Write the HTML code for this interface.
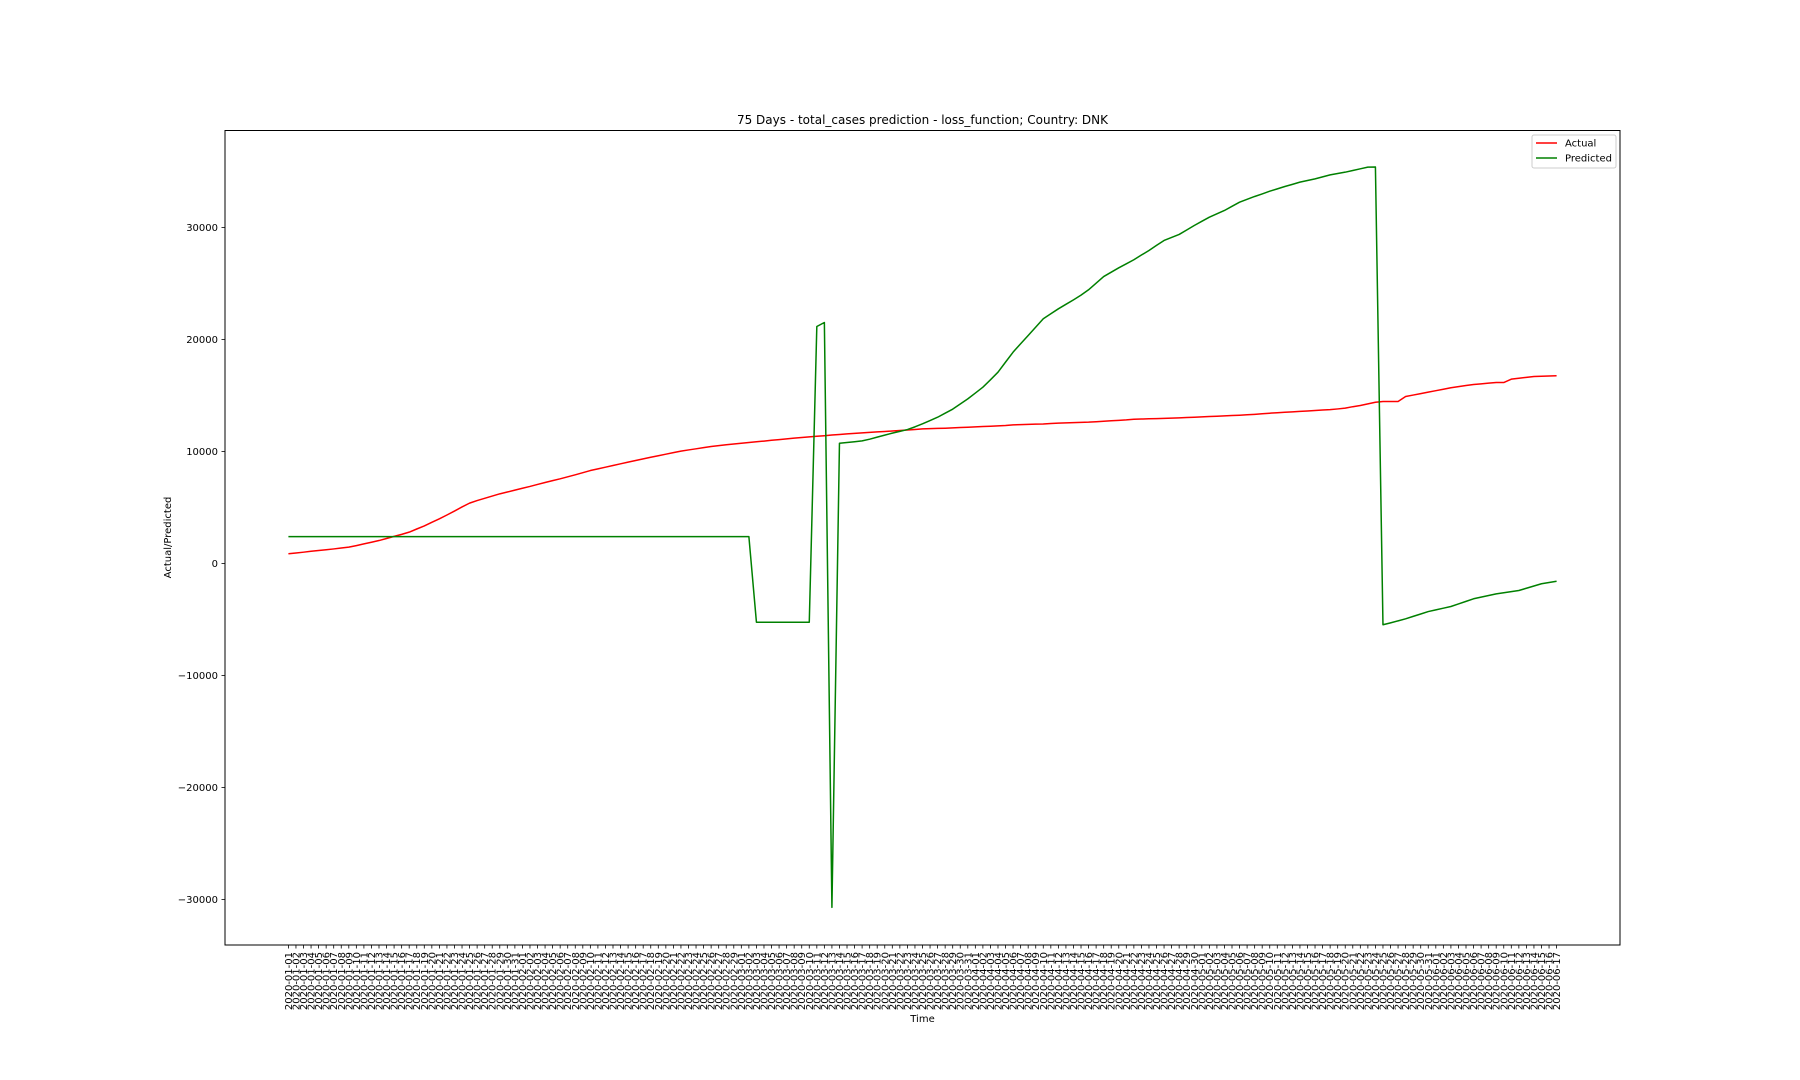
<!DOCTYPE html>
<html>
<head>
<meta charset="utf-8">
<style>
  html,body{margin:0;padding:0;background:#fff;}
  svg{display:block;font-family:"DejaVu Sans","Liberation Sans",sans-serif;}
</style>
</head>
<body>
<svg id="chart" width="1800" height="1080" viewBox="0 0 1800 1080" xmlns="http://www.w3.org/2000/svg">
  <rect x="0" y="0" width="1800" height="1080" fill="#fff"/>
  <text x="922.5" y="124" font-size="12" text-anchor="middle" fill="#000">75 Days - total_cases prediction - loss_function; Country: DNK</text>
  <g id="xticks"></g>
  <g id="yticks"></g>
  <g id="series"></g>
  <rect x="225" y="130.5" width="1395" height="814.5" fill="none" stroke="#000" stroke-width="1"/>
  <text x="922.5" y="1022" font-size="10" text-anchor="middle" fill="#000">Time</text>
  <text transform="translate(171,537.5) rotate(-90)" font-size="10" text-anchor="middle" fill="#000">Actual/Predicted</text>
  <g>
    <rect x="1532" y="135" width="84" height="33" rx="2" fill="#fff" fill-opacity="0.8" stroke="#ccc" stroke-width="1"/>
    <line x1="1536" y1="143" x2="1557" y2="143" stroke="#ff0000" stroke-width="1.5"/>
    <text x="1565" y="146.5" font-size="10" fill="#000">Actual</text>
    <line x1="1536" y1="158" x2="1557" y2="158" stroke="#008000" stroke-width="1.5"/>
    <text x="1565" y="161.5" font-size="10" fill="#000">Predicted</text>
  </g>
</svg>
<script>
const startDate = "2020-01-01";
const dayCount = 169;
const yTickValues = [-30000, -20000, -10000, 0, 10000, 20000, 30000];
const yTickLabels = ["\u221230000", "\u221220000", "\u221210000", "0", "10000", "20000", "30000"];
const actualValues = [
870,940,1010,1090,1160,1230,1300,1380,1460,1600,1750,1900,2050,
2230,2420,2600,2800,3080,3350,3680,3990,4330,4680,5050,5390,
5620,5820,6020,6220,6380,6550,6720,6880,7060,7230,7400,7560,
7740,7920,8110,8300,8450,8600,8750,8900,9050,9200,9340,9490,
9620,9760,9900,10030,10140,10240,10350,10450,10520,10600,10670,10740,
10800,10870,10930,11000,11060,11130,11190,11250,11310,11360,11410,11470,11520,
11570,11620,11660,11710,11750,11790,11830,11880,11920,11970,12020,
12040,12060,12080,12110,12140,12170,12200,12230,12260,12290,12320,12380,
12400,12420,12440,12460,12500,12530,12560,12580,12600,12620,
12660,12700,12740,12780,12820,12880,12900,12920,12940,12960,12980,13000,13030,13060,
13090,13120,13150,13180,13210,13240,13280,13320,13370,13420,
13460,13500,13540,13580,13620,13660,13700,13740,13800,13870,
14000,14110,14250,14400,
14460,14460,14460,14910,15040,15170,15300,15430,15560,15690,15790,15890,15980,16040,16100,16160,16160,16460,16540,16620,16700,16720,16740,16760
];
const predictedValues = [
2400,2400,2400,2400,2400,2400,2400,2400,2400,2400,
2400,2400,2400,2400,2400,2400,2400,2400,2400,2400,
2400,2400,2400,2400,2400,2400,2400,2400,2400,2400,
2400,2400,2400,2400,2400,2400,2400,2400,2400,2400,
2400,2400,2400,2400,2400,2400,2400,2400,2400,2400,
2400,2400,2400,2400,2400,2400,2400,2400,2400,2400,
2400,2400,
-5240,-5240,-5240,-5240,-5240,-5240,-5240,-5240,
21160,21520,-30700,10740,
10800,10870,10950,11100,11280,11460,11640,11800,11960,12200,12470,
12760,13060,13420,13780,14240,14700,15220,15740,16400,17080,17980,18870,
19620,20360,21100,21850,22300,22740,23140,23540,23960,24440,
25030,25620,26010,26400,26760,27120,27540,27950,28400,28840,29110,29380,29780,30180,
30550,30920,31220,31520,31890,32260,32520,32770,33000,33240,
33450,33660,33850,34050,34200,34340,34520,34700,34820,34940,
35090,35240,35390,35400,
-5470,-5300,-5120,-4940,-4720,-4510,-4290,-4140,-3990,-3840,-3610,-3380,-3150,-3000,-2860,-2710,-2610,-2510,-2410,-2210,-2010,-1810,-1700,-1580
];

const NS = "http://www.w3.org/2000/svg";
const axLeft = 225, axRight = 1620, axTop = 130.5, axBottom = 945;
function makeDates(){
  const out = [];
  const d = new Date(startDate + "T00:00:00Z");
  for (let i = 0; i < dayCount; i++) {
    const dd = new Date(d.getTime() + i * 86400000);
    out.push(dd.toISOString().slice(0, 10));
  }
  return out;
}
const dates = makeDates();
const n = dates.length;
const xMin = -0.05 * (n - 1), xMax = (n - 1) * 1.05;
function xScale(i){ return axLeft + (i - xMin) / (xMax - xMin) * (axRight - axLeft); }
function yScale(v){ return 563.5 - v * 0.0112; }

const xg = document.getElementById('xticks');
dates.forEach((lab, i) => {
  const x = xScale(i);
  const t = document.createElementNS(NS, 'line');
  t.setAttribute('x1', x); t.setAttribute('x2', x);
  t.setAttribute('y1', axBottom); t.setAttribute('y2', axBottom + 3.5);
  t.setAttribute('stroke', '#000'); t.setAttribute('stroke-width', '0.8');
  
  
  xg.appendChild(t);
  const tx = document.createElementNS(NS, 'text');
  tx.setAttribute('transform', 'translate(' + (x + 3.5) + ',' + (axBottom + 7) + ') rotate(-90)');
  tx.setAttribute('font-size', '10');
  tx.setAttribute('text-anchor', 'end');
  tx.textContent = lab;
  
  
  xg.appendChild(tx);
});

const yg = document.getElementById('yticks');
yTickValues.forEach((v, k) => {
  const y = yScale(v);
  const t = document.createElementNS(NS, 'line');
  t.setAttribute('x1', axLeft - 3.5); t.setAttribute('x2', axLeft);
  t.setAttribute('y1', y); t.setAttribute('y2', y);
  t.setAttribute('stroke', '#000'); t.setAttribute('stroke-width', '0.8');
  
  
  yg.appendChild(t);
  const tx = document.createElementNS(NS, 'text');
  tx.setAttribute('x', axLeft - 7);
  tx.setAttribute('y', y + 3.5);
  tx.setAttribute('font-size', '10');
  tx.setAttribute('text-anchor', 'end');
  tx.textContent = yTickLabels[k];
  
  
  yg.appendChild(tx);
});

const sg = document.getElementById('series');
function drawLine(vals, color, name){
  const pts = vals.map((v, i) => xScale(i).toFixed(2) + ',' + yScale(v).toFixed(2)).join(' ');
  const pl = document.createElementNS(NS, 'polyline');
  pl.setAttribute('points', pts);
  pl.setAttribute('fill', 'none');
  pl.setAttribute('stroke', color);
  pl.setAttribute('stroke-width', '1.5');
  pl.setAttribute('stroke-linejoin', 'round');
  
  
  sg.appendChild(pl);
}
drawLine(actualValues, '#ff0000', 'actual-line');
drawLine(predictedValues, '#008000', 'predicted-line');
</script>
</body>
</html>
